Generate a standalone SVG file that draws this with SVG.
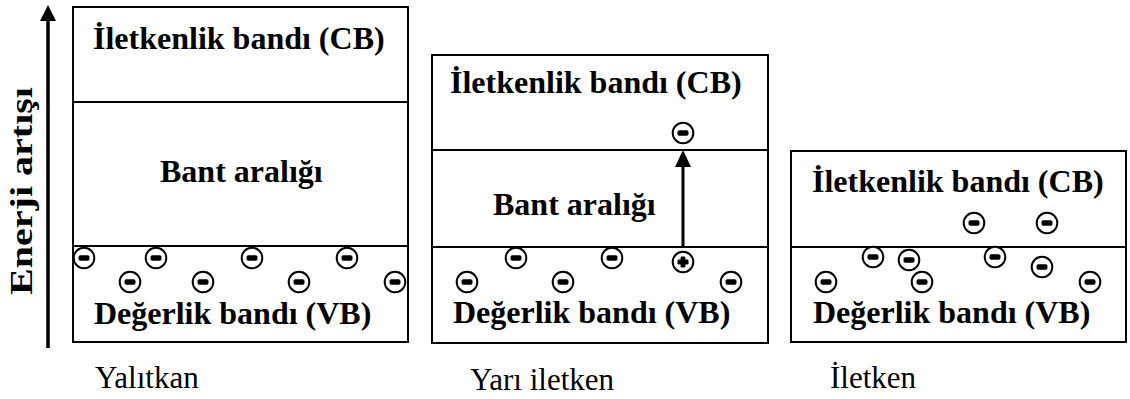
<svg xmlns="http://www.w3.org/2000/svg" xmlns:xlink="http://www.w3.org/1999/xlink" width="1130" height="399" viewBox="0 0 1130 399">
<style>
.box{fill:#fff;stroke:#000;stroke-width:2}
.sep{stroke:#000;stroke-width:2}
.b{font-family:'Liberation Serif','Times New Roman',Times,serif;font-weight:700;font-size:32px;fill:#000}
.r{font-family:'Liberation Serif','Times New Roman',Times,serif;font-weight:400;font-size:31px;fill:#000}
</style>
<defs>
<g id="e"><circle r="10.3" fill="#fff" stroke="#000" stroke-width="2"/><rect x="-5.5" y="-2.8" width="11" height="5.6" rx="1.8" fill="#000"/></g>
<g id="h"><circle r="10.3" fill="#fff" stroke="#000" stroke-width="2"/><rect x="-5.5" y="-2.4" width="11" height="4.8" rx="1.2" fill="#000"/><rect x="-2.4" y="-5.5" width="4.8" height="11" rx="1.2" fill="#000"/></g>
</defs>

<g id="axis">
<line x1="48" y1="348" x2="48" y2="20" stroke="#000" stroke-width="3.5"/>
<path d="M48,5 L40,21 L56,21 Z" fill="#000"/>
<text class="b" transform="translate(32,191) rotate(-90)" text-anchor="middle" textLength="208" lengthAdjust="spacingAndGlyphs">Enerji artışı</text>
</g>

<g id="insulator">
<rect class="box" x="73" y="7" width="335" height="335"/>
<line class="sep" x1="73" y1="102" x2="408" y2="102"/>
<line class="sep" x1="73" y1="246" x2="408" y2="246"/>
<text class="b" x="93" y="49">İletkenlik bandı (CB)</text>
<text class="b" x="160" y="182">Bant aralığı</text>
<text class="b" x="94" y="324">Değerlik bandı (VB)</text>
<use xlink:href="#e" x="84" y="258"/>
<use xlink:href="#e" x="156" y="258"/>
<use xlink:href="#e" x="252" y="258"/>
<use xlink:href="#e" x="347" y="258"/>
<use xlink:href="#e" x="130" y="282"/>
<use xlink:href="#e" x="203" y="282"/>
<use xlink:href="#e" x="299" y="282"/>
<use xlink:href="#e" x="395" y="282"/>
<text class="r" x="95" y="388">Yalıtkan</text>
</g>

<g id="semiconductor">
<rect class="box" x="432" y="55" width="336" height="288"/>
<line class="sep" x1="432" y1="150" x2="768" y2="150"/>
<line class="sep" x1="432" y1="247" x2="768" y2="247"/>
<text class="b" x="450" y="93">İletkenlik bandı (CB)</text>
<text class="b" x="493" y="215">Bant aralığı</text>
<text class="b" x="453" y="323">Değerlik bandı (VB)</text>
<use xlink:href="#e" x="683" y="133"/>
<use xlink:href="#e" x="467" y="282"/>
<use xlink:href="#e" x="516" y="258"/>
<use xlink:href="#e" x="563" y="282"/>
<use xlink:href="#e" x="612" y="258"/>
<use xlink:href="#e" x="731" y="282"/>
<use xlink:href="#h" x="683" y="262"/>
<text class="r" x="470" y="390">Yarı iletken</text>
</g>

<g id="conductor">
<rect class="box" x="791" y="151" width="335" height="191"/>
<line class="sep" x1="791" y1="247" x2="1126" y2="247"/>
<text class="b" x="812" y="192">İletkenlik bandı (CB)</text>
<text class="b" x="813" y="323">Değerlik bandı (VB)</text>
<use xlink:href="#e" x="974" y="223"/>
<use xlink:href="#e" x="1047" y="223"/>
<use xlink:href="#e" x="873" y="257"/>
<use xlink:href="#e" x="909" y="260"/>
<use xlink:href="#e" x="995" y="257"/>
<use xlink:href="#e" x="1042" y="267"/>
<use xlink:href="#e" x="826" y="282"/>
<use xlink:href="#e" x="922" y="282"/>
<use xlink:href="#e" x="1090" y="282"/>
<text class="r" x="830" y="388">İletken</text>
</g>

<g id="connectors">
<line x1="683" y1="247" x2="683" y2="166" stroke="#000" stroke-width="3"/>
<path d="M683,150 L675,167 L691,167 Z" fill="#000"/>
</g>
</svg>
